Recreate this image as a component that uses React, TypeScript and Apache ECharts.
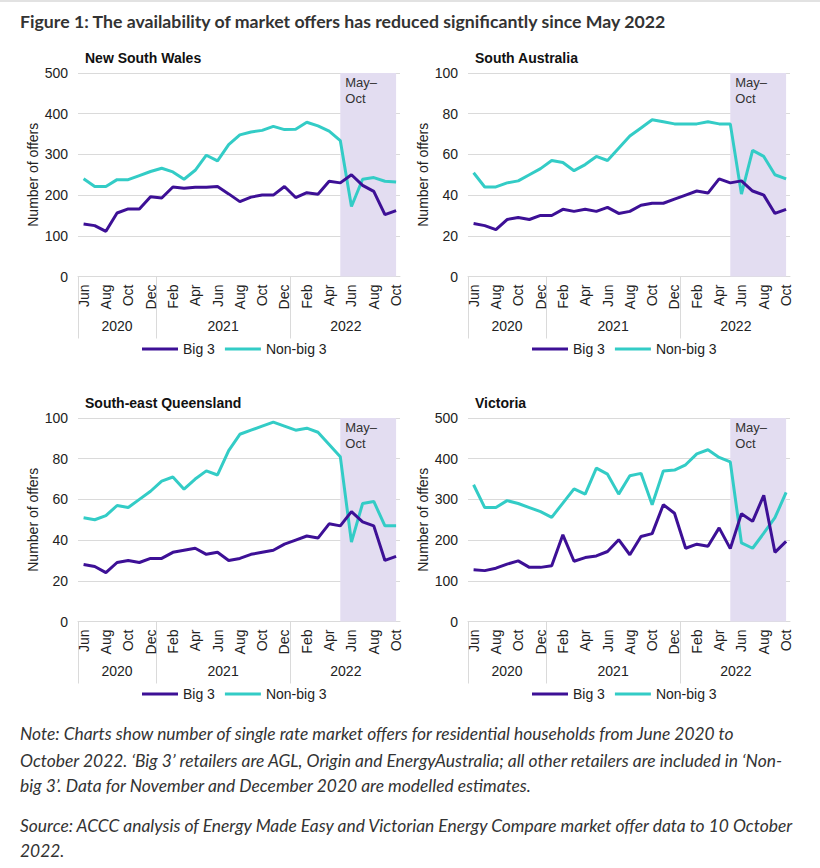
import React, { useEffect, useRef } from 'react';
import * as echarts from 'echarts';

// ---- Data ----
const periodMonths = ['Jun','Jul','Aug','Sep','Oct','Nov','Dec','Jan','Feb','Mar','Apr','May','Jun','Jul','Aug','Sep','Oct','Nov','Dec','Jan','Feb','Mar','Apr','May','Jun','Jul','Aug','Sep','Oct'];
const periodYears = ['2020','2020','2020','2020','2020','2020','2020','2021','2021','2021','2021','2021','2021','2021','2021','2021','2021','2021','2021','2022','2022','2022','2022','2022','2022','2022','2022','2022','2022'];
const years = ['2020', '2021', '2022'];
const shadeFrom = 'May 2022';
const shadeLabel = 'May–\nOct';
const seriesNames = ['Big 3', 'Non-big 3'];

const nswBig3 = [129,125,111,156,166,166,196,193,220,217,219,219,221,203,184,195,200,200,221,194,206,202,234,230,250,224,209,152,162];
const nswNonBig3 = [240,221,221,238,238,248,258,266,257,239,261,298,284,324,348,355,359,369,361,362,379,370,357,334,172,239,243,234,232];
const saBig3 = [26,25,23,28,29,28,30,30,33,32,33,32,34,31,32,35,36,36,38,40,42,41,48,46,47,42,40,31,33];
const saNonBig3 = [51,44,44,46,47,50,53,57,56,52,55,59,57,63,69,73,77,76,75,75,75,76,75,75,40.5,62,59,50,48];
const seqBig3 = [28,27,24,29,30,29,31,31,34,35,36,33,34,30,31,33,34,35,38,40,42,41,48,47,54,49,47,30,32];
const seqNonBig3 = [51,50,52,57,56,60,64,69,71,65,70,74,72,84,92,94,96,98,96,94,95,93,87,81,39,58,59,47,47];
const vicBig3 = [127,125,131,141,149,133,133,137,213,148,157,161,172,201,164,209,216,287,266,180,190,185,230,179,265,246,310,170,197];
const vicNonBig3 = [336,280,280,297,290,280,270,256,291,326,313,377,362,313,358,364,287,370,372,385,412,422,403,392,193,180,217,255,317];

const panelTitles = ['New South Wales', 'South Australia', 'South-east Queensland', 'Victoria'];
const panelBig3 = [nswBig3, saBig3, seqBig3, vicBig3];
const panelNonBig3 = [nswNonBig3, saNonBig3, seqNonBig3, vicNonBig3];
const panelYMax = [500, 100, 100, 500];
const panelYInterval = [100, 20, 20, 100];

const figureTitle = 'Figure 1: The availability of market offers has reduced significantly since May 2022';
const noteLines = [
  'Note: Charts show number of single rate market offers for residential households from June 2020 to',
  'October 2022. ‘Big 3’ retailers are AGL, Origin and EnergyAustralia; all other retailers are included in ‘Non-',
  'big 3’. Data for November and December 2020 are modelled estimates.',
];
const sourceLines = [
  'Source: ACCC analysis of Energy Made Easy and Victorian Energy Compare market offer data to 10 October',
  '2022.',
];

// ---- Styling ----
const PURPLE = '#3D1096';
const TEAL = '#33CCC6';
const SHADE = '#E3DDF1';
const GRIDC = '#DADADA';
const FONT = '"Liberation Sans", Arial, sans-serif';
const TEXTFONT = 'Lato, "Noto Sans", sans-serif';

const layouts = [
  { left: 78, top: 73 },
  { left: 468, top: 73 },
  { left: 78, top: 418 },
  { left: 468, top: 418 },
];
const GRID_W = 322;
const GRID_H = 203.5;

export default function App() {
  const ref = useRef<HTMLDivElement>(null);

  useEffect(() => {
    if (!ref.current) return;
    const chart = echarts.init(ref.current, null, { renderer: 'svg' });

    const n = periodMonths.length;
    const labelIdx = periodMonths.map((_, i) => i).filter((i) => i % 2 === 0);
    const yearStarts = years.map((y) => periodYears.indexOf(y) - 0.5);
    const yearEnds = years.map((y) => periodYears.lastIndexOf(y) + 0.5);
    const yearCenters = years.map((_, k) => (yearStarts[k] + yearEnds[k]) / 2);
    const periodKeys = periodMonths.map((m, i) => m + ' ' + periodYears[i]);
    const shadeStart = periodKeys.indexOf(shadeFrom);
    const shadeEnd = n - 1;
    const xMin = -0.5;
    const xMax = n - 1 + 0.35;

    const grid: any[] = [];
    const xAxis: any[] = [];
    const yAxis: any[] = [];
    const series: any[] = [];
    const legend: any[] = [];
    const title: any[] = [];

    panelTitles.forEach((pt, i) => {
      const L = layouts[i];
      grid.push({ left: L.left, top: L.top, width: GRID_W, height: GRID_H });
      title.push({
        text: pt,
        left: L.left + 2,
        top: L.top - 27,
        textStyle: { fontSize: 14, fontWeight: 'bold', color: '#111', fontFamily: FONT },
      });
      xAxis.push({
        type: 'value',
        gridIndex: i,
        position: 'bottom',
        min: xMin,
        max: xMax,
        axisLine: { show: true, lineStyle: { color: GRIDC, width: 1 } },
        axisTick: { show: false },
        splitLine: { show: false },
        axisLabel: {
          customValues: labelIdx,
          formatter: (v: number) => periodMonths[Math.round(v)] ?? '',
          rotate: 90,
          fontSize: 14,
          color: '#222',
          margin: 8,
          fontFamily: FONT,
        },
      });
      xAxis.push({
        type: 'value',
        gridIndex: i,
        position: 'bottom',
        min: xMin,
        max: xMax,
        axisLine: { show: false },
        axisTick: { show: true, customValues: yearStarts, length: 62, lineStyle: { color: GRIDC } },
        splitLine: { show: false },
        axisLabel: {
          customValues: yearCenters,
          formatter: (v: number) => {
            const k = yearCenters.findIndex((c) => Math.abs(c - v) < 0.01);
            return k >= 0 ? years[k] : '';
          },
          fontSize: 14,
          color: '#222',
          margin: 42,
          fontFamily: FONT,
        },
      });
      yAxis.push({
        type: 'value',
        gridIndex: i,
        min: 0,
        max: panelYMax[i],
        interval: panelYInterval[i],
        axisLine: { show: false },
        axisTick: { show: false },
        splitLine: { lineStyle: { color: GRIDC, width: 1 } },
        axisLabel: { fontSize: 14, color: '#222', margin: 10, fontFamily: FONT },
        name: 'Number of offers',
        nameLocation: 'middle',
        nameGap: 38,
        nameTextStyle: { fontSize: 14, color: '#222', fontFamily: FONT },
      });
      series.push({
        type: 'line',
        name: seriesNames[0],
        xAxisIndex: 2 * i,
        yAxisIndex: i,
        data: panelBig3[i].map((v, k) => [k, v]),
        symbol: 'none',
        lineStyle: { color: PURPLE, width: 3 },
        itemStyle: { color: PURPLE },
        z: 5,
        markArea: {
          silent: true,
          itemStyle: { color: SHADE },
          label: {
            show: true,
            position: 'insideTopLeft',
            formatter: shadeLabel,
            fontSize: 13,
            lineHeight: 16,
            color: '#333',
            distance: 5,
            offset: [0, -4],
            fontFamily: FONT,
          },
          data: [[{ xAxis: shadeStart }, { xAxis: shadeEnd }]],
        },
      });
      series.push({
        type: 'line',
        name: seriesNames[1],
        xAxisIndex: 2 * i,
        yAxisIndex: i,
        data: panelNonBig3[i].map((v, k) => [k, v]),
        symbol: 'none',
        lineStyle: { color: TEAL, width: 3 },
        itemStyle: { color: TEAL },
        z: 4,
      });
      legend.push({
        left: L.left + 59,
        top: L.top + 264,
        data: seriesNames,
        icon: 'rect',
        itemWidth: 36,
        itemHeight: 3,
        itemGap: 10,
        selectedMode: false,
        textStyle: { fontSize: 14, color: '#222', fontFamily: FONT },
      });
    });

    const graphic: any[] = [
      { type: 'rect', shape: { x: 0, y: 0, width: 820, height: 2 }, style: { fill: '#E2E2E2' } },
      {
        type: 'text',
        x: 20,
        y: 21,
        style: {
          text: figureTitle,
          fontFamily: TEXTFONT,
          fontWeight: 'bold',
          fontSize: 17.7,
          fill: '#333',
          verticalAlign: 'middle',
        },
      },
    ];
    const noteYs = [733, 760, 785];
    const NOTE_SIZE = 17.4;
    noteLines.forEach((t, k) => {
      graphic.push({
        type: 'text',
        x: 20,
        y: noteYs[k],
        style: { text: t, fontFamily: TEXTFONT, fontStyle: 'italic', fontSize: NOTE_SIZE, fill: '#333', verticalAlign: 'middle' },
      });
    });
    const sourceYs = [825, 850];
    sourceLines.forEach((t, k) => {
      graphic.push({
        type: 'text',
        x: 20,
        y: sourceYs[k],
        style: { text: t, fontFamily: TEXTFONT, fontStyle: 'italic', fontSize: NOTE_SIZE, fill: '#333', verticalAlign: 'middle' },
      });
    });

    chart.setOption({
      animation: false,
      backgroundColor: '#fff',
      textStyle: { fontFamily: FONT },
      title,
      grid,
      xAxis,
      yAxis,
      series,
      legend,
      graphic,
    });

    return () => chart.dispose();
  }, []);

  return (
    <div
      ref={ref}
      style={{ position: 'absolute', left: 0, top: 0, width: 820, height: 868 }}
    />
  );
}
